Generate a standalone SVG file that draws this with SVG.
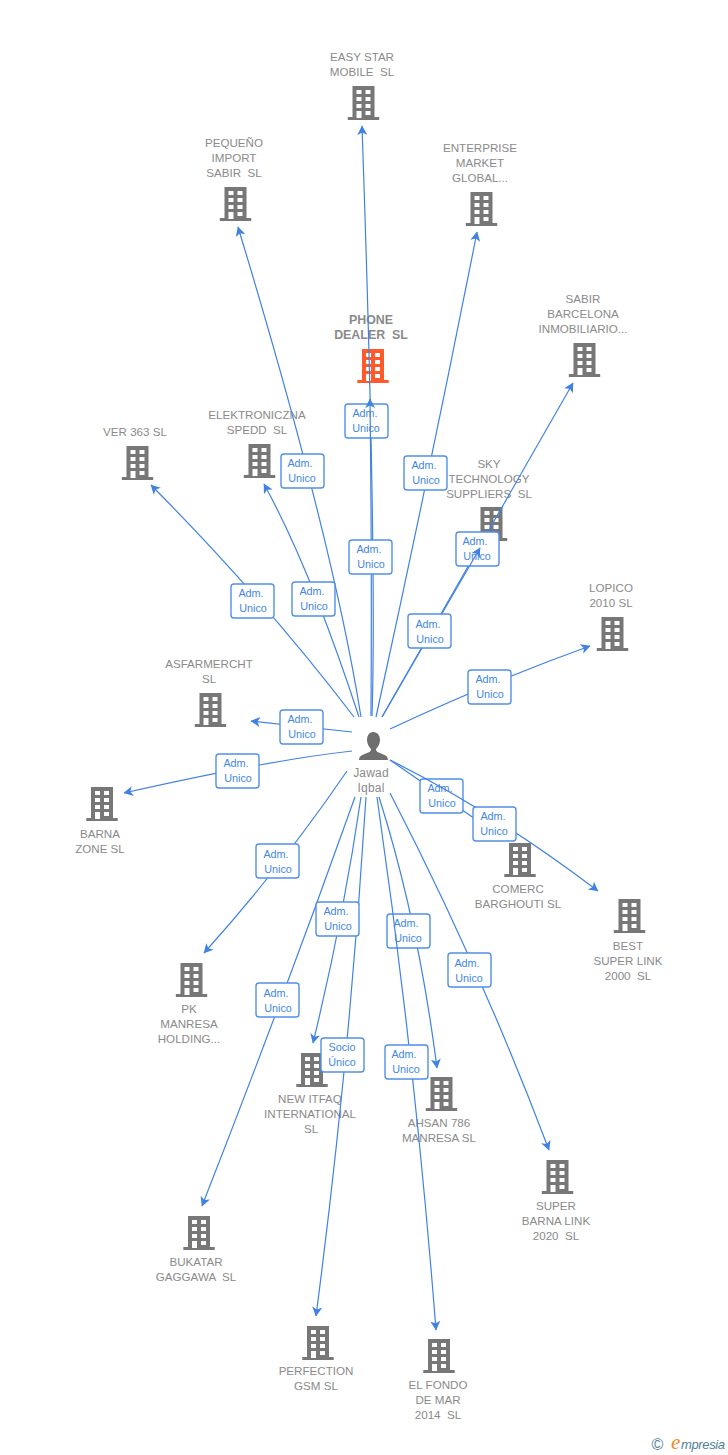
<svg xmlns="http://www.w3.org/2000/svg" width="728" height="1455" viewBox="0 0 728 1455">
<style>
text{font-family:"Liberation Sans",Arial,sans-serif}
.n{font-size:11.6px;fill:#8a8a8a;text-anchor:middle;white-space:pre}
.p{font-size:12.4px;font-weight:bold}
.g{fill:#777}
.o{fill:#ff5a2b}
.l{font-size:10.8px;fill:#4287e6;text-anchor:middle}
.c{fill:none;stroke:#4082e2;stroke-width:1.2;marker-end:url(#a)}
.b{fill:#fff;stroke:#5190e8;stroke-width:1.4}
</style>
<defs>
<marker id="a" markerWidth="12" markerHeight="12" refX="9" refY="5" orient="auto" markerUnits="userSpaceOnUse"><path d="M0,0 L9.5,5 L0,10 L2.5,5 Z" fill="#4082e2"/></marker>
<path id="bld" fill-rule="evenodd" d="M-11,0H11V31H15.7V34H-15.7V31H-11ZM-7,4V8H-2V4ZM2,4V8H7V4ZM-7,11V15H-2V11ZM2,11V15H7V11ZM-7,18V22H-2V18ZM2,18V22H7V18ZM-7,25V32H-2V25ZM2,25V29H7V25Z"/>
</defs>
<rect width="728" height="1455" fill="#fff"/>
<g id="n1"><use class="g" href="#bld" x="363.5" y="86"/><text class="n" x="362" y="61">EASY STAR</text><text class="n" x="362" y="76">MOBILE  SL</text></g>
<g id="n2"><use class="g" href="#bld" x="235.5" y="187"/><text class="n" x="234" y="147">PEQUEÑO</text><text class="n" x="234" y="162">IMPORT</text><text class="n" x="234" y="177">SABIR  SL</text></g>
<g id="n3"><use class="g" href="#bld" x="481.5" y="192"/><text class="n" x="480" y="152">ENTERPRISE</text><text class="n" x="480" y="167">MARKET</text><text class="n" x="480" y="182">GLOBAL...</text></g>
<g id="n4"><use class="g" href="#bld" x="584.5" y="343"/><text class="n" x="583" y="303">SABIR</text><text class="n" x="583" y="318">BARCELONA</text><text class="n" x="583" y="333">INMOBILIARIO...</text></g>
<g id="n5"><use class="o" href="#bld" x="373" y="349"/><text class="n p" x="371" y="324">PHONE</text><text class="n p" x="371" y="339">DEALER  SL</text></g>
<g id="n6"><use class="g" href="#bld" x="137.5" y="446"/><text class="n" x="135" y="436">VER 363 SL</text></g>
<g id="n7"><use class="g" href="#bld" x="259.5" y="444"/><text class="n" x="257" y="419">ELEKTRONICZNA</text><text class="n" x="257" y="434">SPEDD  SL</text></g>
<g id="n8"><use class="g" href="#bld" x="491.5" y="507"/><text class="n" x="489" y="468">SKY</text><text class="n" x="489" y="483">TECHNOLOGY</text><text class="n" x="489" y="498">SUPPLIERS  SL</text></g>
<g id="n9"><use class="g" href="#bld" x="612.5" y="617"/><text class="n" x="611" y="592">LOPICO</text><text class="n" x="611" y="607">2010 SL</text></g>
<g id="n10"><use class="g" href="#bld" x="210.5" y="693"/><text class="n" x="209" y="668">ASFARMERCHT</text><text class="n" x="209" y="683">SL</text></g>
<g id="n11"><use class="g" href="#bld" x="102" y="787"/><text class="n" x="100" y="838">BARNA</text><text class="n" x="100" y="853">ZONE SL</text></g>
<g id="n12"><use class="g" href="#bld" x="520" y="843"/><text class="n" x="518" y="893">COMERC</text><text class="n" x="518" y="908">BARGHOUTI SL</text></g>
<g id="n13"><use class="g" href="#bld" x="629.5" y="899"/><text class="n" x="628" y="950">BEST</text><text class="n" x="628" y="965">SUPER LINK</text><text class="n" x="628" y="980">2000  SL</text></g>
<g id="n14"><use class="g" href="#bld" x="191.5" y="963"/><text class="n" x="189" y="1013">PK</text><text class="n" x="189" y="1028">MANRESA</text><text class="n" x="189" y="1043">HOLDING...</text></g>
<g id="n15"><use class="g" href="#bld" x="312" y="1053"/><text class="n" x="310" y="1103">NEW ITFAQ</text><text class="n" x="310" y="1118">INTERNATIONAL</text><text class="n" x="311" y="1133">SL</text></g>
<g id="n16"><use class="g" href="#bld" x="441.5" y="1077"/><text class="n" x="439" y="1127">AHSAN 786</text><text class="n" x="439" y="1142">MANRESA SL</text></g>
<g id="n17"><use class="g" href="#bld" x="557.5" y="1160"/><text class="n" x="556" y="1210">SUPER</text><text class="n" x="556" y="1225">BARNA LINK</text><text class="n" x="556" y="1240">2020  SL</text></g>
<g id="n18"><use class="g" href="#bld" x="199" y="1216"/><text class="n" x="196" y="1266">BUKATAR</text><text class="n" x="196" y="1281">GAGGAWA  SL</text></g>
<g id="n19"><use class="g" href="#bld" x="318" y="1326"/><text class="n" x="316" y="1375">PERFECTION</text><text class="n" x="316" y="1390">GSM SL</text></g>
<g id="n20"><use class="g" href="#bld" x="439" y="1339"/><text class="n" x="438" y="1389">EL FONDO</text><text class="n" x="438" y="1404">DE MAR</text><text class="n" x="438" y="1419">2014  SL</text></g>
<g id="person"><path fill="#6f6f6f" d="M373,732c5,0 7,4 7,8c0,4 -2,7 -4,9c0,2 1,3 4,4c5,2 8,3 8,7H359c0,-4 3,-5 8,-7c3,-1 4,-2 4,-4c-2,-2 -4,-5 -4,-9c0,-4 2,-8 6,-8Z"/><text class="n" style="font-size:12px;letter-spacing:.2px" x="371" y="777">Jawad</text><text class="n" style="font-size:12px;letter-spacing:.2px" x="371" y="792">Iqbal</text></g>
<g id="connectors">
<path class="c" d="M361,717Q333,540 238,227"/>
<rect class="b" x="281" y="454" width="43" height="34" rx="3"/><text class="l" x="300" y="467">Adm.</text><text class="l" x="302" y="482">Unico</text>
<path class="c" d="M354,717Q265,600 151,485"/>
<rect class="b" x="231" y="584" width="43" height="34" rx="3"/><text class="l" x="251" y="597">Adm.</text><text class="l" x="253" y="612">Unico</text>
<path class="c" d="M359,717Q311,570 264,484"/>
<rect class="b" x="292" y="582" width="43" height="34" rx="3"/><text class="l" x="312" y="595">Adm.</text><text class="l" x="314" y="610">Unico</text>
<path class="c" d="M372,716Q377,560 362,126"/>
<rect class="b" x="345" y="404" width="43" height="34" rx="3"/><text class="l" x="365" y="417">Adm.</text><text class="l" x="366" y="432">Unico</text>
<path class="c" d="M371,716Q372,560 370,399"/>
<rect class="b" x="349" y="540" width="43" height="34" rx="3"/><text class="l" x="369" y="553">Adm.</text><text class="l" x="371" y="568">Unico</text>
<path class="c" d="M376,717Q429,475 477,232"/>
<rect class="b" x="404" y="456" width="43" height="34" rx="3"/><text class="l" x="424" y="469">Adm.</text><text class="l" x="426" y="484">Unico</text>
<path class="c" d="M382,717L573,383"/>
<rect class="b" x="456" y="532" width="43" height="34" rx="3"/><text class="l" x="475" y="545">Adm.</text><text class="l" x="477" y="560">Unico</text>
<path class="c" d="M382,717L480,548"/>
<rect class="b" x="408" y="614" width="43" height="34" rx="3"/><text class="l" x="428" y="628">Adm.</text><text class="l" x="430" y="643">Unico</text>
<path class="c" d="M390,729Q490,682 590,646"/>
<rect class="b" x="468" y="670" width="43" height="34" rx="3"/><text class="l" x="488" y="683">Adm.</text><text class="l" x="490" y="698">Unico</text>
<path class="c" d="M352,732L251,721"/>
<rect class="b" x="280" y="710" width="43" height="34" rx="3"/><text class="l" x="300" y="723">Adm.</text><text class="l" x="302" y="738">Unico</text>
<path class="c" d="M352,751Q270,760 124,793"/>
<rect class="b" x="216" y="754" width="43" height="34" rx="3"/><text class="l" x="236" y="767">Adm.</text><text class="l" x="238" y="782">Unico</text>
<path class="c" d="M390,760L494,832"/>
<rect class="b" x="420" y="779" width="43" height="34" rx="3"/><text class="l" x="440" y="792">Adm.</text><text class="l" x="442" y="807">Unico</text>
<path class="c" d="M390,760Q494,812 598,891"/>
<rect class="b" x="473" y="807" width="43" height="34" rx="3"/><text class="l" x="493" y="820">Adm.</text><text class="l" x="494" y="835">Unico</text>
<path class="c" d="M347,771Q283,865 204,953"/>
<rect class="b" x="256" y="844" width="43" height="34" rx="3"/><text class="l" x="276" y="858">Adm.</text><text class="l" x="278" y="873">Unico</text>
<path class="c" d="M355,797Q282,1002 202,1206"/>
<rect class="b" x="256" y="983" width="43" height="34" rx="3"/><text class="l" x="276" y="997">Adm.</text><text class="l" x="278" y="1012">Unico</text>
<path class="c" d="M361,797Q343,920 313,1043"/>
<path class="c" d="M366,797Q350,1056 316,1316"/>
<rect class="b" x="316" y="902" width="43" height="34" rx="3"/><text class="l" x="336" y="915">Adm.</text><text class="l" x="338" y="930">Unico</text>
<rect class="b" x="321" y="1038" width="43" height="34" rx="3"/><text class="l" x="342" y="1051">Socio</text><text class="l" x="342" y="1066">Único</text>
<path class="c" d="M379,797Q418,920 437,1068"/>
<rect class="b" x="387" y="914" width="43" height="34" rx="3"/><text class="l" x="406" y="927">Adm.</text><text class="l" x="408" y="942">Unico</text>
<path class="c" d="M377,797Q415,1060 436,1330"/>
<rect class="b" x="385" y="1045" width="43" height="34" rx="3"/><text class="l" x="404" y="1058">Adm.</text><text class="l" x="406" y="1073">Unico</text>
<path class="c" d="M390,793Q479,965 549,1150"/>
<rect class="b" x="448" y="953" width="43" height="34" rx="3"/><text class="l" x="467" y="967">Adm.</text><text class="l" x="469" y="982">Unico</text>
</g>
<g id="brand"><text x="657.5" y="1449.5" font-size="16" fill="#4d7f96" text-anchor="middle">©</text><text x="671" y="1449" font-size="21" fill="#f08a1d" font-style="italic" style="font-family:'Liberation Serif',serif">e</text><text x="681" y="1449" font-size="13" fill="#4d7f96" font-style="italic" textLength="44">mpresia</text></g>
</svg>
